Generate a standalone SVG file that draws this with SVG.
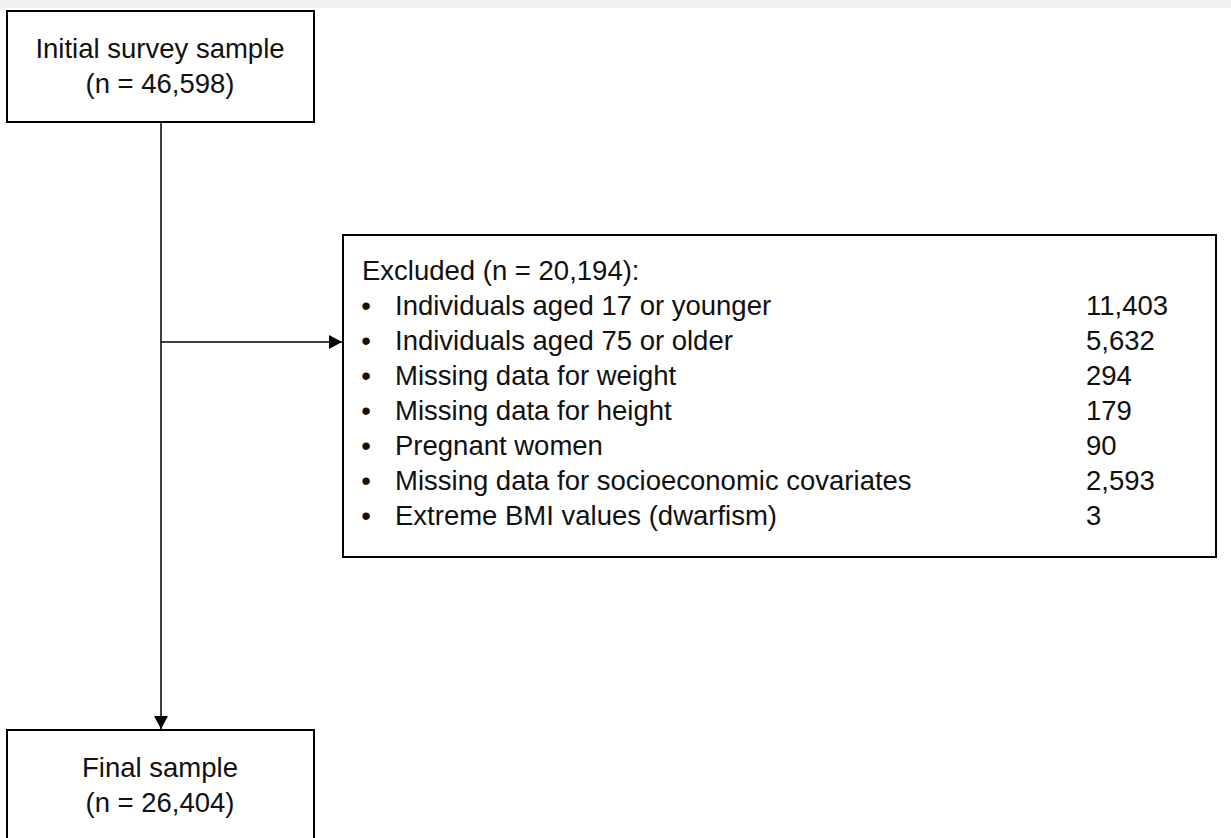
<svg xmlns="http://www.w3.org/2000/svg" width="1231" height="838" viewBox="0 0 1231 838">
<style>
.box{fill:#fff;stroke:#000;stroke-width:2}
.t{font-family:"Liberation Sans",Arial,sans-serif;font-size:27.5px;fill:#111}
.c{text-anchor:middle}
.ln{stroke:#000;stroke-width:1.5;fill:none}
</style>
<defs>
<marker id="ah" viewBox="0 0 13 14" refX="13" refY="7" markerWidth="13" markerHeight="14" markerUnits="userSpaceOnUse" orient="auto">
<path d="M0,0 L13,7 L0,14 Z" fill="#000"/>
</marker>
</defs>
<rect x="0" y="0" width="1231" height="838" fill="#fff"/>
<rect x="0" y="0" width="1231" height="8" fill="#f0f0f0"/>
<g id="connectors">
<line class="ln" x1="161" y1="122" x2="161" y2="729" marker-end="url(#ah)"/>
<line class="ln" x1="161" y1="342" x2="342" y2="342" marker-end="url(#ah)"/>
</g>
<g id="initial">
<rect class="box" x="7" y="11" width="307" height="111"/>
<text class="t c" x="160" y="58">Initial survey sample</text>
<text class="t c" x="160" y="93">(n = 46,598)</text>
</g>
<g id="excluded">
<rect class="box" x="343" y="235" width="873" height="322"/>
<text class="t" x="362" y="280">Excluded (n = 20,194):</text>
<g class="t">
<text class="c" x="366" y="315">•</text><text x="395" y="315">Individuals aged 17 or younger</text><text x="1086" y="315">11,403</text>
<text class="c" x="366" y="350">•</text><text x="395" y="350">Individuals aged 75 or older</text><text x="1086" y="350">5,632</text>
<text class="c" x="366" y="385">•</text><text x="395" y="385">Missing data for weight</text><text x="1086" y="385">294</text>
<text class="c" x="366" y="420">•</text><text x="395" y="420">Missing data for height</text><text x="1086" y="420">179</text>
<text class="c" x="366" y="455">•</text><text x="395" y="455">Pregnant women</text><text x="1086" y="455">90</text>
<text class="c" x="366" y="490">•</text><text x="395" y="490">Missing data for socioeconomic covariates</text><text x="1086" y="490">2,593</text>
<text class="c" x="366" y="525">•</text><text x="395" y="525">Extreme BMI values (dwarfism)</text><text x="1086" y="525">3</text>
</g>
</g>
<g id="final">
<rect class="box" x="7" y="730" width="307" height="120"/>
<text class="t c" x="160" y="777">Final sample</text>
<text class="t c" x="160" y="812">(n = 26,404)</text>
</g>
</svg>
